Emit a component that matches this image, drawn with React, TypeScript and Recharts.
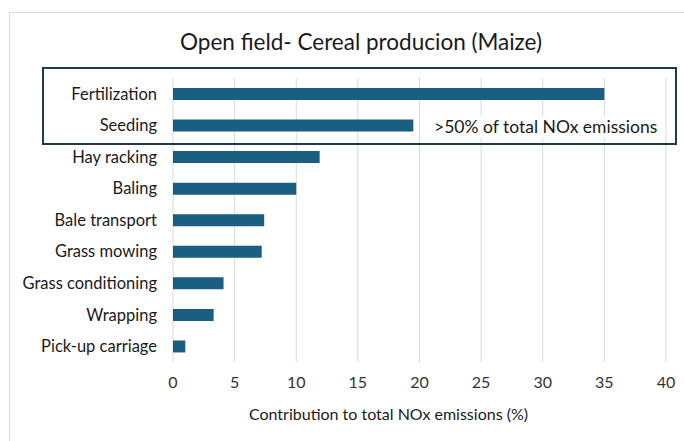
import React from "react";
import { Bar, BarChart, CartesianGrid, Label, XAxis, YAxis } from "recharts";

const operations = [
  "Fertilization",
  "Seeding",
  "Hay racking",
  "Baling",
  "Bale transport",
  "Grass mowing",
  "Grass conditioning",
  "Wrapping",
  "Pick-up carriage",
];

const contribution = [35, 19.5, 11.9, 10.0, 7.4, 7.2, 4.1, 3.3, 1.0];

const xTicks = [0, 5, 10, 15, 20, 25, 30, 35, 40];

const data = operations.map((name, i) => ({ name, value: contribution[i] }));

const FONT = "Lato, 'Noto Sans', sans-serif";

export default function App() {
  return (
    <div
      style={{
        position: "absolute",
        left: 0,
        top: 0,
        width: 684,
        height: 441,
        overflow: "hidden",
        background: "#fff",
        fontFamily: FONT,
      }}
    >
      <div
        style={{
          position: "absolute",
          left: 9,
          top: 12,
          width: 720,
          height: 480,
          border: "1px solid #d9d9d9",
        }}
      />
      <div
        style={{
          position: "absolute",
          left: 0,
          top: 28,
          width: 722,
          textAlign: "center",
          fontSize: 22.5,
          lineHeight: "28px",
          color: "#1a1a1a",
        }}
      >
        Open field- Cereal producion (Maize)
      </div>
      <div style={{ position: "absolute", left: 0, top: 0 }}>
        <BarChart
          width={684}
          height={441}
          data={data}
          layout="vertical"
          margin={{ top: 78, right: 18, bottom: 19, left: 0 }}
          barCategoryGap={0}
        >
          <CartesianGrid horizontal={false} stroke="#d9d9d9" />
          <XAxis
            type="number"
            domain={[0, 40]}
            ticks={xTicks}
            axisLine={false}
            tickLine={false}
            tickMargin={9}
            height={60}
            tick={{ fill: "#333", fontSize: 16, fontFamily: FONT }}
          >
            <Label
              value="Contribution to total NOx emissions (%)"
              position="insideBottom"
              offset={2}
              dx={-31}
              style={{ fill: "#1a1a1a", fontSize: 16, fontFamily: FONT }}
            />
          </XAxis>
          <YAxis
            type="category"
            dataKey="name"
            width={173}
            axisLine={false}
            tickLine={false}
            tickMargin={10}
            interval={0}
            tick={{ fill: "#1a1a1a", fontSize: 16.5, fontFamily: FONT }}
          />
          <Bar dataKey="value" fill="#1a5f82" barSize={12} isAnimationActive={false} />
        </BarChart>
      </div>
      <div
        style={{
          position: "absolute",
          left: 42,
          top: 67,
          width: 631,
          height: 74,
          border: "2px solid #1f3a4d",
        }}
      />
      <div
        style={{
          position: "absolute",
          left: 434,
          top: 116,
          fontSize: 17.5,
          lineHeight: "22px",
          color: "#1a1a1a",
          background: "#fff",
          whiteSpace: "nowrap",
        }}
      >
        &gt;50% of total NOx emissions
      </div>
    </div>
  );
}
